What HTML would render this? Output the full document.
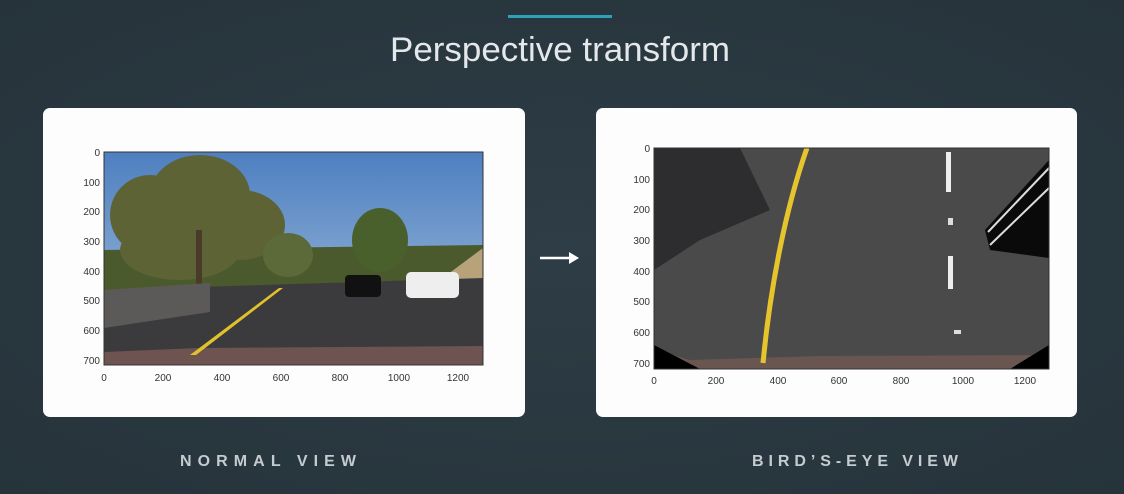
<!DOCTYPE html>
<html><head><meta charset="utf-8"><style>
html,body{margin:0;padding:0;width:1124px;height:494px;overflow:hidden;background:#2a3942;}
svg{display:block}
text{font-family:"Liberation Sans",sans-serif}
</style></head><body>
<svg width="1124" height="494" viewBox="0 0 1124 494" xmlns="http://www.w3.org/2000/svg">
<defs>
<radialGradient id="bg" cx="0.5" cy="0.5" r="0.7"><stop offset="0" stop-color="#2e3d46"/><stop offset="1" stop-color="#26333b"/></radialGradient>
<linearGradient id="sky" x1="0" y1="0" x2="0" y2="1"><stop offset="0" stop-color="#4e7fc0"/><stop offset="1" stop-color="#a9c4df"/></linearGradient>
</defs>
<rect width="1124" height="494" fill="url(#bg)"/>
<rect x="508" y="15" width="104" height="3" fill="#2aa3b8"/>
<text x="560" y="61" text-anchor="middle" font-size="34" fill="#e4e8ea" textLength="340" lengthAdjust="spacingAndGlyphs">Perspective transform</text>

<!-- left card -->
<rect x="43" y="108" width="482" height="309" rx="7" fill="#fdfdfd"/>
<g>
<rect x="104" y="152" width="379" height="213" fill="url(#sky)"/>
<polygon points="104,250 483,245 483,290 104,295" fill="#4a5a2c"/>
<g fill="#5d6335">
<ellipse cx="150" cy="215" rx="40" ry="40"/>
<ellipse cx="200" cy="195" rx="50" ry="40"/>
<ellipse cx="240" cy="225" rx="45" ry="35"/>
<ellipse cx="180" cy="250" rx="60" ry="30"/>
</g>
<rect x="196" y="230" width="6" height="55" fill="#4a3a2a"/>
<ellipse cx="380" cy="240" rx="28" ry="32" fill="#49602c"/>
<ellipse cx="288" cy="255" rx="25" ry="22" fill="#5c6a3a"/>
<polygon points="440,280 483,248 483,285" fill="#b8a27a"/>
<polygon points="104,290 483,278 483,365 104,365" fill="#3b3b3e"/>
<polygon points="104,290 210,283 210,312 104,328" fill="#5c5a58"/>
<polygon points="104,352 200,348 483,346 483,365 104,365" fill="#6e5450"/>
<polygon points="190,355 196,355 283,288 279,288" fill="#e2c22a"/>
<rect x="345" y="275" width="36" height="22" rx="4" fill="#111"/>
<rect x="406" y="272" width="53" height="26" rx="5" fill="#eee"/>
</g>
<rect x="104" y="152" width="379" height="213" fill="none" stroke="#333" stroke-width="1"/>
<g font-size="10" fill="#333" text-anchor="end">
<text x="100" y="156">0</text><text x="100" y="186">100</text><text x="100" y="215">200</text><text x="100" y="245">300</text><text x="100" y="275">400</text><text x="100" y="304">500</text><text x="100" y="334">600</text><text x="100" y="364">700</text>
</g>
<g font-size="10" fill="#333" text-anchor="middle">
<text x="104" y="381">0</text><text x="163" y="381">200</text><text x="222" y="381">400</text><text x="281" y="381">600</text><text x="340" y="381">800</text><text x="399" y="381">1000</text><text x="458" y="381">1200</text>
</g>

<!-- arrow -->
<line x1="540" y1="258" x2="572" y2="258" stroke="#fff" stroke-width="2.5"/>
<polygon points="579,258 569,252 569,264" fill="#fff"/>

<!-- right card -->
<rect x="596" y="108" width="481" height="309" rx="7" fill="#fdfdfd"/>
<g>
<rect x="654" y="148" width="395" height="221" fill="#4a4a4b"/>
<polygon points="654,148 740,148 770,210 700,240 654,270" fill="#2d2d30"/>
<polygon points="654,350 690,360 820,356 1049,355 1049,369 654,369" fill="#6a5650"/>
<polygon points="654,345 700,369 654,369" fill="#000"/>
<polygon points="1049,345 1010,369 1049,369" fill="#000"/>
<polygon points="985,230 1049,160 1049,258 990,250" fill="#0a0a0a"/>
<line x1="988" y1="232" x2="1049" y2="168" stroke="#ddd" stroke-width="2"/>
<line x1="990" y1="245" x2="1049" y2="188" stroke="#ddd" stroke-width="2"/>
<path d="M763,363 C770,290 785,210 807,148" stroke="#e6c52c" stroke-width="5" fill="none"/>
<rect x="946" y="152" width="5" height="40" fill="#eee"/>
<rect x="948" y="256" width="5" height="33" fill="#eee"/>
<rect x="948" y="218" width="5" height="7" fill="#ddd"/>
<rect x="954" y="330" width="7" height="4" fill="#ddd"/>
</g>
<rect x="654" y="148" width="395" height="221" fill="none" stroke="#333" stroke-width="1"/>
<g font-size="10" fill="#333" text-anchor="end">
<text x="650" y="152">0</text><text x="650" y="183">100</text><text x="650" y="213">200</text><text x="650" y="244">300</text><text x="650" y="275">400</text><text x="650" y="305">500</text><text x="650" y="336">600</text><text x="650" y="367">700</text>
</g>
<g font-size="10" fill="#333" text-anchor="middle">
<text x="654" y="384">0</text><text x="716" y="384">200</text><text x="778" y="384">400</text><text x="839" y="384">600</text><text x="901" y="384">800</text><text x="963" y="384">1000</text><text x="1025" y="384">1200</text>
</g>

<text x="268" y="466" text-anchor="middle" font-size="16" font-weight="bold" fill="#c5ccd0" textLength="176" lengthAdjust="spacing">NORMAL VIEW</text>
<text x="855" y="466" text-anchor="middle" font-size="16" font-weight="bold" fill="#c5ccd0" textLength="206" lengthAdjust="spacing">BIRD’S-EYE VIEW</text>
</svg>
</body></html>
